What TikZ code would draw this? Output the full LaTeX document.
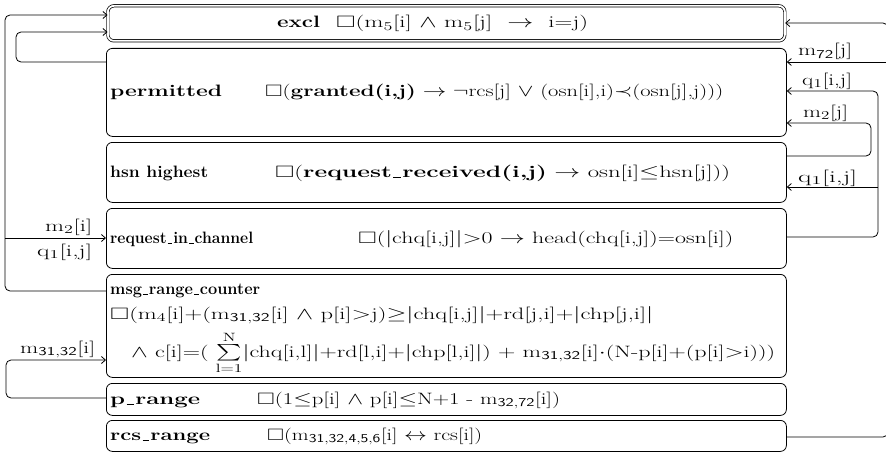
\documentclass[tikz,border=0pt]{standalone}
\usepackage{amssymb}
\usepackage{graphicx}
\usetikzlibrary{arrows.meta}
\newcommand{\fw}[2]{\resizebox{#1pt}{\height}{#2}}
\newcommand{\us}{\kern0.06em\rule[-0.04em]{0.3em}{0.07em}\kern0.06em}
\begin{document}
\begin{tikzpicture}[x=1pt,y=-1pt,
  box/.style={draw, rounded corners=6pt, line width=0.8pt, inner sep=0pt, anchor=north west},
  conn/.style={draw, line width=0.8pt, rounded corners=5pt},
  arr/.style={conn, -{Straight Barb[length=4pt,width=7pt]}},
  txt/.style={inner sep=0pt, anchor=base west, font=\fontsize{16.5}{19}\selectfont},
]
\useasboundingbox (0,0) rectangle (886,452);
% boxes
\node[box, double, double distance=1.8pt, line width=0.7pt, minimum width=677pt, minimum height=35pt] (excl) at (107.5,5.5) {};
\node[box, minimum width=680pt, minimum height=88pt] (perm) at (106,48) {};
\node[box, minimum width=680pt, minimum height=60pt] (hsn) at (106,142) {};
\node[box, minimum width=680pt, minimum height=60pt] (req) at (106,208) {};
\node[box, minimum width=680pt, minimum height=103pt] (msg) at (106,274) {};
\node[box, minimum width=680pt, minimum height=32pt] (prng) at (106,383) {};
\node[box, minimum width=680pt, minimum height=31pt] (rcs) at (106,420) {};
% texts
\node[txt] (t1) at (277,28) {\fw{43}{\textbf{excl}}};
\node[txt] (f1) at (336,28) {\fw{252}{$\square$(m$_5$[i] $\wedge$ m$_5$[j] \ $\rightarrow$\ \ i=j)}};
\node[txt] (t2) at (110,96) {\fw{112}{\textbf{permitted}}};
\node[txt] (f2) at (265,96) {\fw{458}{$\square$(\textbf{granted(i,j)} $\rightarrow\neg$rcs[j] $\vee$ (osn[i],i)$\prec$(osn[j],j)))}};
\node[txt] (t3) at (110,177) {\fw{98}{\textbf{hsn highest}}};
\node[txt] (f3) at (275,177) {\fw{455}{$\square$(\textbf{request\us received(i,j)} $\rightarrow$ osn[i]$\leq$hsn[j]))}};
\node[txt] (t4) at (110,243) {\fw{143}{\textbf{request\us in\us channel}}};
\node[txt] (f4) at (358,243) {\fw{375}{$\square$($|$chq[i,j]$|$$>$0 $\rightarrow$ head(chq[i,j])=osn[i])}};
\node[txt] (t5) at (110,294) {\fw{150}{\textbf{msg\us range\us counter}}};
\node[txt] (f5a) at (110,319) {\fw{543}{$\square$(m$_4$[i]+(m$_{\mathsf{31,32}}$[i] $\wedge$ p[i]$>$j)$\geq$$|$chq[i,j]$|$+rd[j,i]+$|$chp[j,i]$|$}};
\node[txt] (f5b) at (131,357) {\fw{644}{$\wedge$ c[i]=( $\sum\limits_{\mathrm{l=1}}^{\mathrm{N}}$$|$chq[i,l]$|$+rd[l,i]+$|$chp[l,i]$|$) + m$_{\mathsf{31,32}}$[i]$\cdot$(N-p[i]+(p[i]$>$i)))}};
\node[txt] (t6) at (110,404) {\fw{90}{\textbf{p\us range}}};
\node[txt] (f6) at (257,404) {\fw{303}{$\square$(1$\leq$p[i] $\wedge$ p[i]$\leq$N+1 - m$_{\mathsf{32,72}}$[i])}};
\node[txt] (t7) at (110,440) {\fw{100}{\textbf{rcs\us range}}};
\node[txt] (f7) at (267,440) {\fw{215}{$\square$(m$_{\mathsf{31,32,4,5,6}}$[i] $\leftrightarrow$ rcs[i])}};
% helper coordinates
\coordinate (y15) at (0,15);
\coordinate (y32) at (0,32);
\coordinate (y62) at (0,62);
\coordinate (y291) at (0,291);
\coordinate (y238) at (0,238);
\coordinate (y360) at (0,360);
\coordinate (y398) at (0,398);
\coordinate (y23) at (0,23);
\coordinate (y91) at (0,91);
\coordinate (y123) at (0,123);
\coordinate (y156) at (0,156);
\coordinate (y187) at (0,187);
\coordinate (y237) at (0,237);
\coordinate (y437) at (0,437);
\coordinate (jl) at (5,238);
\coordinate (jr1) at (888,62);
\coordinate (jr2) at (878,187);
% left connectors
\draw[arr] (msg.west |- y291) -- (5,291) -- (5,15) -- (excl.west |- y15);
\draw[arr] (perm.west |- y62) -- (16,62) -- (16,32) -- (excl.west |- y32);
\draw[arr] (jl) -- (req.west |- y238);
\draw[arr] (prng.west |- y398) -- (6,398) -- (6,360) -- (msg.west |- y360);
% right connectors
\draw[arr] (rcs.east |- y437) -- (888,437) -- (888,23) -- (excl.east |- y23);
\draw[arr] (jr1) -- (perm.east |- y62);
\draw[arr] (req.east |- y237) -- (878,237) -- (878,91) -- (perm.east |- y91);
\draw[arr] (jr2) -- (hsn.east |- y187);
\draw[arr] (hsn.east |- y156) -- (871,156) -- (871,123) -- (perm.east |- y123);
% connector labels
\node[txt] (l1) at (798,56) {\fw{54}{m$_{\mathsf{72}}$[j]}};
\node[txt] (l2) at (802,85) {\fw{50}{q$_1$[i,j]}};
\node[txt] (l3) at (803,117) {\fw{45}{m$_2$[j]}};
\node[txt] (l4) at (798,182) {\fw{59}{q$_1$[i,j]}};
\node[txt] (l5) at (45,231) {\fw{47}{m$_2$[i]}};
\node[txt] (l6) at (37,256) {\fw{55}{q$_1$[i,j]}};
\node[txt] (l7) at (20,353) {\fw{75}{m$_{\mathsf{31,32}}$[i]}};
\end{tikzpicture}
\end{document}
